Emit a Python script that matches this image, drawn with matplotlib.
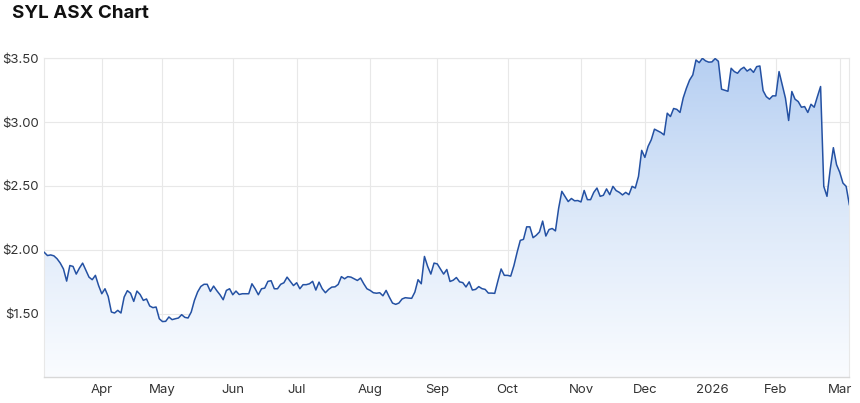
import numpy as np
import pandas as pd
import matplotlib
matplotlib.use('Agg')
import matplotlib.pyplot as plt
from matplotlib.colors import LinearSegmentedColormap

# SYL daily close, one value per ASX trading day (6 Mar 2025 - 5 Mar 2026)
start_date = '2025-03-06'
end_date = '2026-03-05'
asx_holidays = ['2025-04-18', '2025-04-21', '2025-04-25', '2025-06-09',
                '2025-12-25', '2025-12-26', '2026-01-01', '2026-01-26']

prices = [
    1.98, 1.955, 1.96, 1.953, 1.93, 1.896, 1.85, 1.755, 1.877, 1.87,
    1.81, 1.857, 1.896, 1.84, 1.786, 1.766, 1.80, 1.72, 1.656, 1.695,
    1.635, 1.513, 1.505, 1.526, 1.505, 1.63, 1.68, 1.66, 1.596, 1.677,
    1.65, 1.604, 1.615, 1.56, 1.547, 1.552, 1.46, 1.438, 1.44, 1.474,
    1.453, 1.46, 1.466, 1.492, 1.471, 1.466, 1.513, 1.604, 1.67, 1.713,
    1.73, 1.73, 1.674, 1.716, 1.68, 1.648, 1.609, 1.682, 1.695, 1.648,
    1.677, 1.65, 1.656, 1.656, 1.656, 1.734, 1.695, 1.648, 1.695, 1.70,
    1.753, 1.758, 1.695, 1.695, 1.73, 1.742, 1.786, 1.753, 1.72, 1.742,
    1.695, 1.727, 1.727, 1.734, 1.753, 1.685, 1.747, 1.695, 1.664, 1.69,
    1.708, 1.71, 1.729, 1.79, 1.773, 1.79, 1.786, 1.773, 1.76, 1.779,
    1.734, 1.695, 1.682, 1.664, 1.66, 1.664, 1.64, 1.682, 1.63, 1.583,
    1.573, 1.583, 1.615, 1.625, 1.622, 1.62, 1.669, 1.766, 1.734, 1.948,
    1.87, 1.81, 1.896, 1.89, 1.85, 1.81, 1.846, 1.752, 1.762, 1.783,
    1.749, 1.743, 1.709, 1.749, 1.685, 1.69, 1.712, 1.696, 1.69, 1.661,
    1.661, 1.659, 1.757, 1.85, 1.80, 1.80, 1.794, 1.876, 1.98, 2.074,
    2.082, 2.18, 2.18, 2.095, 2.114, 2.14, 2.225, 2.108, 2.159, 2.167,
    2.148, 2.325, 2.458, 2.418, 2.378, 2.402, 2.384, 2.386, 2.375, 2.465,
    2.393, 2.393, 2.45, 2.484, 2.419, 2.427, 2.477, 2.432, 2.497, 2.464,
    2.45, 2.43, 2.45, 2.432, 2.497, 2.484, 2.575, 2.779, 2.724, 2.81,
    2.862, 2.945, 2.932, 2.919, 2.90, 3.07, 3.044, 3.107, 3.10, 3.076,
    3.19, 3.266, 3.33, 3.37, 3.487, 3.466, 3.50, 3.48, 3.47, 3.472,
    3.498, 3.477, 3.258, 3.25, 3.242, 3.422, 3.396, 3.383, 3.414, 3.43,
    3.40, 3.417, 3.39, 3.435, 3.44, 3.247, 3.20, 3.18, 3.206, 3.206,
    3.396, 3.292, 3.188, 3.013, 3.24, 3.18, 3.161, 3.117, 3.122, 3.076,
    3.14, 3.117, 3.20, 3.279, 2.497, 2.419, 2.628, 2.80, 2.667, 2.607,
    2.523, 2.497, 2.354,
]

y_ticks = [1.5, 2.0, 2.5, 3.0, 3.5]
y_tick_labels = ['$1.50', '$2.00', '$2.50', '$3.00', '$3.50']

plt.rcParams['font.family'] = ['Inter', 'DejaVu Sans']

# 交易日序列（横轴按交易日排列，没有周末空隙）
dates = pd.bdate_range(start_date, end_date)
dates = dates[~dates.isin(pd.to_datetime(asx_holidays))]
x = np.arange(len(dates))
y = np.array(prices)

# 每月第一个交易日作为刻度
month_key = dates.to_period('M')
first_idx = [i for i in range(1, len(dates)) if month_key[i] != month_key[i - 1]]
month_labels = [str(dates[i].year) if dates[i].month == 1 else dates[i].strftime('%b')
                for i in first_idx]

fig = plt.figure(figsize=(8.6, 4.03), dpi=100)
ax = fig.add_axes([0.0515, 0.0633, 0.9361, 0.792])

y_min, y_max = 1.0, 3.5
ax.set_xlim(0, len(x) - 1)
ax.set_ylim(y_min, y_max)

# 渐变填充：用 imshow 画渐变，再用折线下方的多边形裁剪
fill = ax.fill_between(x, y, y_min, facecolor='none', edgecolor='none')
cmap = LinearSegmentedColormap.from_list('area', ['#fafcff', '#dde9f9', '#b6cff2'])
grad = np.linspace(0, 1, 256).reshape(-1, 1)
im = ax.imshow(grad, extent=[0, len(x) - 1, y_min, y_max], origin='lower',
               aspect='auto', cmap=cmap, zorder=1)
im.set_clip_path(fill.get_paths()[0], transform=ax.transData)

ax.plot(x, y, color='#2451a3', linewidth=1.1, zorder=3)

# 网格和边框
ax.set_yticks(y_ticks)
ax.set_yticklabels(y_tick_labels)
ax.set_xticks(first_idx)
ax.set_xticklabels(month_labels)
ax.grid(True, color='#e8e8e8', linewidth=0.8, zorder=0)
ax.set_axisbelow(True)
for side in ['top', 'left', 'right']:
    ax.spines[side].set_color('#e8e8e8')
    ax.spines[side].set_linewidth(0.8)
ax.spines['bottom'].set_color('#d8d8d8')
ax.spines['bottom'].set_linewidth(1.0)
ax.tick_params(axis='both', length=0, labelsize=9.5, labelcolor='#333333')
ax.tick_params(axis='y', pad=4)
ax.tick_params(axis='x', pad=5)

fig.text(12 / 860, 1 - 14 / 403, 'SYL ASX Chart', fontsize=13.5, fontweight='bold',
         color='#111111', ha='left', va='center')

fig.savefig('out.png', dpi=100)
